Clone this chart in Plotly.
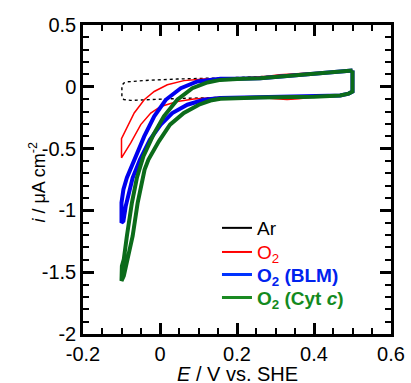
import plotly.graph_objects as go

# ---- data (E / V vs. SHE, j / uA cm^-2), each loop traced as a closed CV ----
ar_E = [0.50, 0.45, 0.40, 0.30, 0.20, 0.15, 0.045, -0.041, -0.085, -0.094, -0.099,
        -0.099, -0.094, -0.076, -0.024, 0.045, 0.157, 0.26, 0.35, 0.45, 0.49, 0.50, 0.50]
ar_j = [0.125, 0.115, 0.105, 0.088, 0.075, 0.072, 0.063, 0.051, 0.040, 0.030, 0.010,
        -0.085, -0.103, -0.110, -0.103, -0.095, -0.086, -0.085, -0.082, -0.072, -0.060, -0.040, 0.125]

o2_E = [0.50, 0.45, 0.40, 0.37, 0.34, 0.31, 0.28, 0.24, 0.20, 0.157, 0.114, 0.062, 0.019,
        -0.015, -0.041, -0.067, -0.084, -0.097, -0.100,
        -0.100, -0.076, -0.050, -0.024, 0.002, 0.045, 0.088, 0.157, 0.20, 0.26, 0.30,
        0.33, 0.36, 0.40, 0.45, 0.468, 0.49, 0.50, 0.50]
o2_j = [0.131, 0.122, 0.112, 0.110, 0.106, 0.098, 0.086, 0.077, 0.070, 0.068, 0.063, 0.050, 0.016,
        -0.038, -0.105, -0.212, -0.320, -0.414, -0.420,
        -0.575, -0.454, -0.306, -0.212, -0.159, -0.119, -0.099, -0.085, -0.083, -0.086, -0.097,
        -0.102, -0.096, -0.082, -0.075, -0.070, -0.055, -0.038, 0.131]

blm_E = [0.50, 0.45, 0.40, 0.33, 0.26, 0.20, 0.157, 0.097, 0.054, 0.015, -0.015, -0.041,
         -0.063, -0.086, -0.095, -0.100,
         -0.100, -0.095, -0.089, -0.080, -0.071, -0.052, -0.026, 0.002, 0.032, 0.071,
         0.114, 0.157, 0.26, 0.40, 0.468, 0.49, 0.50, 0.50]
blm_j = [0.131, 0.118, 0.104, 0.088, 0.070, 0.066, 0.065, 0.043, -0.011, -0.105, -0.239, -0.401,
         -0.562, -0.736, -0.831, -0.938,
         -1.100, -1.086, -0.965, -0.831, -0.736, -0.589, -0.427, -0.306, -0.212, -0.145,
         -0.105, -0.091, -0.086, -0.080, -0.070, -0.055, -0.038, 0.131]

cyt_E = [0.50, 0.45, 0.40, 0.33, 0.26, 0.20, 0.157, 0.123, 0.084, 0.045, 0.010, -0.017,
         -0.043, -0.060, -0.073, -0.086, -0.094, -0.099,
         -0.100, -0.094, -0.085, -0.071, -0.058, -0.050, -0.040, -0.030, -0.003, 0.026, 0.062,
         0.101, 0.131, 0.157, 0.26, 0.40, 0.468, 0.49, 0.50, 0.50]
cyt_j = [0.131, 0.118, 0.104, 0.088, 0.070, 0.064, 0.056, 0.035, -0.011, -0.105, -0.239, -0.387,
         -0.562, -0.736, -0.938, -1.207, -1.395, -1.450,
         -1.570, -1.530, -1.395, -1.207, -0.938, -0.800, -0.670, -0.589, -0.441, -0.306, -0.212,
         -0.145, -0.111, -0.097, -0.086, -0.080, -0.070, -0.055, -0.038, 0.131]

x_tickvals = [-0.2, 0.0, 0.2, 0.4, 0.6]
x_ticktext = ["-0.2", "0", "0.2", "0.4", "0.6"]
y_tickvals = [0.5, 0.0, -0.5, -1.0, -1.5, -2.0]
y_ticktext = ["0.5", "0", "-0.5", "-1", "-1.5", "-2"]

series_names = [
    "Ar",
    "<span style='color:#ff0000'>O<sub>2</sub></span>",
    "<span style='color:#0022ee'><b>O<sub>2</sub> (BLM)</b></span>",
    "<span style='color:#138a1e'><b>O<sub>2</sub> (Cyt <i>c</i>)</b></span>",
]

BLACK, RED, BLUE, GREEN = "#000000", "#ff0000", "#0000ee", "#0b6b1a"

fig = go.Figure()
fig.add_trace(go.Scatter(x=ar_E, y=ar_j, mode="lines", showlegend=False,
                         line=dict(color=BLACK, width=1.4, dash="3px,3px")))
fig.add_trace(go.Scatter(x=o2_E, y=o2_j, mode="lines", showlegend=False,
                         line=dict(color=RED, width=1.5)))
fig.add_trace(go.Scatter(x=blm_E, y=blm_j, mode="lines", showlegend=False,
                         line=dict(color=BLUE, width=4)))
fig.add_trace(go.Scatter(x=cyt_E, y=cyt_j, mode="lines", showlegend=False,
                         line=dict(color=GREEN, width=4)))

FONT = "Liberation Sans, Arial, sans-serif"

# legend entries (solid sample lines as in the reference), one small legend per entry
legend_ids = ["legend", "legend2", "legend3", "legend4"]
legend_y = [0.343, 0.265, 0.192, 0.118]
for name, col, w, lid in zip(series_names, [BLACK, RED, "#0033ff", "#1a8a22"], [2, 2, 3, 3], legend_ids):
    fig.add_trace(go.Scatter(x=[None], y=[None], mode="lines", name=name, legend=lid,
                             line=dict(color=col, width=w)))

axis_common = dict(
    showline=True, linecolor="black", linewidth=2.5, mirror="allticks",
    ticks="inside", ticklen=11, tickwidth=2.5, tickcolor="black",
    showgrid=False, zeroline=False,
    tickfont=dict(family=FONT, size=20, color="black"),
)

legend_layout = {}
for lid, ly in zip(legend_ids, legend_y):
    legend_layout[lid] = dict(x=0.435, y=ly, xanchor="left", yanchor="middle",
                              bgcolor="rgba(0,0,0,0)", borderwidth=0,
                              font=dict(family=FONT, size=19), itemwidth=30)

fig.update_layout(
    width=411, height=383,
    margin=dict(l=83, r=20, t=25, b=49, autoexpand=False),
    paper_bgcolor="white", plot_bgcolor="white",
    font=dict(family=FONT, size=19, color="black"),
    xaxis=dict(range=[-0.2, 0.6], tickmode="array", tickvals=x_tickvals, ticktext=x_ticktext,
               minor=dict(tickmode="linear", tick0=-0.2, dtick=0.05, ticks="inside",
                          ticklen=6, tickwidth=2, tickcolor="black"),
               ticklabelstandoff=0,
               **axis_common),
    yaxis=dict(range=[-2, 0.5], tickmode="array", tickvals=y_tickvals, ticktext=y_ticktext,
               minor=dict(tickmode="linear", tick0=-2, dtick=0.1, ticks="inside",
                          ticklen=6, tickwidth=2, tickcolor="black"),
               ticklabelstandoff=0,
               **axis_common),
    annotations=[
        dict(text="<i>i</i> / μA cm<sup>-2</sup>", xref="paper", yref="paper",
             x=-0.146, y=0.49, xanchor="center", yanchor="middle",
             textangle=-90, showarrow=False,
             font=dict(family=FONT, size=18, color="black")),
        dict(text="<i>E</i> / V vs. SHE", xref="paper", yref="paper",
             x=0.5, y=-0.128, xanchor="center", yanchor="middle",
             showarrow=False, font=dict(family=FONT, size=20, color="black")),
    ],
    showlegend=True,
    **legend_layout,
)

fig.write_html("out.html", config={"displayModeBar": False},
               post_script="document.body.style.margin='0';document.body.style.overflow='hidden';")
